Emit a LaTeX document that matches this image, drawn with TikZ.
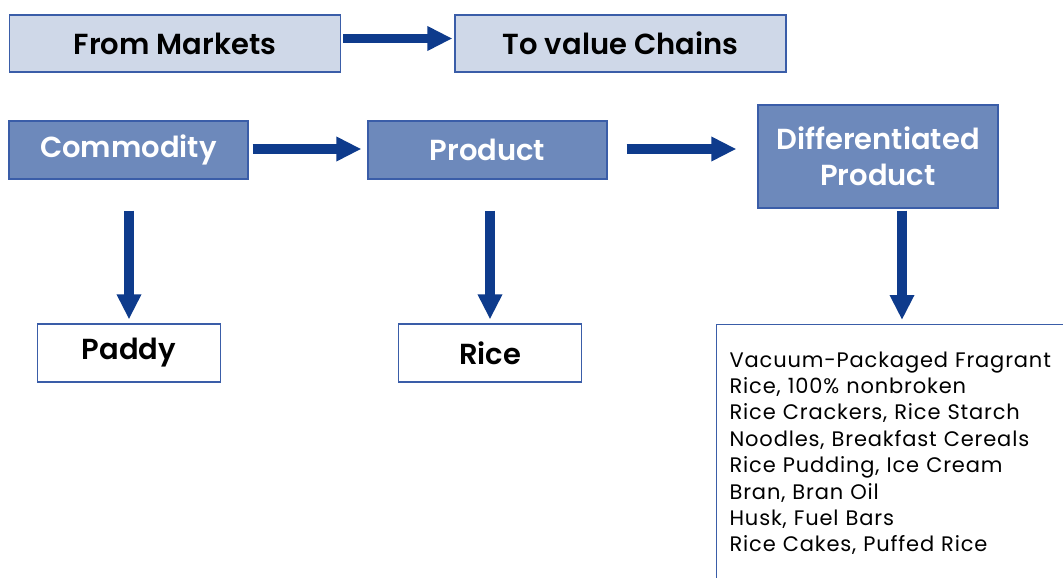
\documentclass[tikz,border=0pt]{standalone}
\usepackage{fontspec}
\setmainfont{Poppins}[BoldFont={Poppins SemiBold}]
\newfontfamily\listfont{Poppins}[LetterSpace=4]
\usetikzlibrary{arrows.meta}
\usetikzlibrary{positioning}
\definecolor{boxline}{HTML}{3A5DA8}
\definecolor{lightfill}{HTML}{CFD8E8}
\definecolor{midfill}{HTML}{6D89BB}
\definecolor{arrowblue}{HTML}{0E3B8C}
\tikzstyle{topbox}=[draw=boxline, fill=lightfill, line width=1.2pt, minimum width=331, minimum height=57, inner sep=0pt, font=\bfseries\fontsize{29}{30}\selectfont]
\tikzstyle{stagebox}=[draw=boxline, fill=midfill, text=white, line width=1.2pt, minimum width=239, minimum height=58, inner sep=0pt, align=center, font=\bfseries\fontsize{29}{36}\selectfont]
\tikzstyle{itembox}=[draw=boxline, fill=white, line width=1.2pt, minimum width=183, minimum height=58, inner sep=0pt, font=\bfseries\fontsize{29}{30}\selectfont]
\tikzstyle{listbox}=[draw=boxline, fill=white, line width=1.2pt, anchor=north west, align=left, text width=340, inner xsep=13pt, inner ysep=27pt, font=\listfont\fontsize{21}{26.4}\selectfont]
\tikzstyle{bigarrow}=[draw=arrowblue, line width=9.5pt, -{Triangle[width=23pt,length=25pt]}]

\begin{document}
\begin{tikzpicture}[x=1pt, y=-1pt]

  \useasboundingbox (0,0) rectangle (1063,578);
  \clip (0,0) rectangle (1063,578);

  % markets versus value chains
  \node[topbox] (markets) at (175,43.5) {From Markets};
  \node[topbox] (chains) at (620.5,43.5) {To value Chains};

  % the three stages
  \foreach \x/\name/\label in {128.5/commodity/Commodity, 487.5/product/Product}
      \node[stagebox] (\name) at (\x,150) {\label};
  \node[stagebox, minimum width=240, minimum height=103] (diff) at (878,156.5) {Differentiated\\Product};

  % what each stage gives
  \foreach \x/\name/\label in {129/paddy/Paddy, 490/rice/Rice}
      \node[itembox] (\name) at (\x,353) {\label};
  \node[listbox] (uses) at (716,324) {Vacuum-Packaged Fragrant\\
      Rice, 100\% nonbroken\\
      Rice Crackers, Rice Starch\\
      Noodles, Breakfast Cereals\\
      Rice Pudding, Ice Cream\\
      Bran, Bran Oil\\
      Husk, Fuel Bars\\
      Rice Cakes, Puffed Rice};

  \draw[bigarrow, shorten <=2pt, shorten >=2pt] ([yshift=5pt]markets.east) -- ([yshift=5pt]chains.west);
  \draw[bigarrow, shorten <=4pt, shorten >=6pt] ([yshift=1pt]commodity.east) -- ([yshift=1pt]product.west);
  \draw[bigarrow, shorten <=19pt, shorten >=21pt] ([yshift=1pt]product.east) -- ([yshift=1pt]product.east -| diff.west);

  \draw[bigarrow, shorten <=31pt, shorten >=4pt] (paddy.north |- commodity.south) -- (paddy.north);
  \draw[bigarrow, shorten <=31pt, shorten >=4pt] (rice.north |- product.south) -- (rice.north);
  \draw[bigarrow, shorten <=2pt, shorten >=4pt] ([xshift=24pt]diff.south) -- ([xshift=24pt]diff.south |- uses.north);

\end{tikzpicture}
\end{document}
